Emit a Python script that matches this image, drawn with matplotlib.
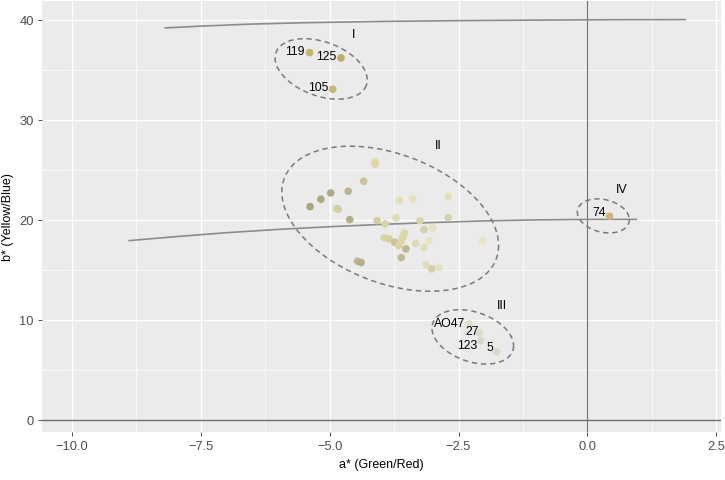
import numpy as np
import matplotlib
matplotlib.use("Agg")
import matplotlib.pyplot as plt
from matplotlib.ticker import MultipleLocator

plt.rcParams['font.family'] = ['Liberation Sans', 'DejaVu Sans']

# ---------------- data ----------------
# Group I
g1_a = [-5.39, -4.78, -4.94]
g1_b = [36.73, 36.20, 33.07]
g1_labels = ["119", "125", "105"]
g1_colors = ["#C4B46C", "#BEAD66", "#C8B870"]

# Group II
g2_a = [-5.38, -5.17, -4.98, -4.64, -4.34, -4.12, -4.12, -4.83, -4.86, -4.61,
        -4.08, -3.92, -3.71, -3.65, -3.39, -2.70, -2.70, -3.25, -3.17, -3.00,
        -2.04, -3.55, -3.58, -3.94, -3.85, -3.74, -3.66, -3.61, -3.52, -3.33,
        -3.17, -3.07, -3.61, -4.46, -4.39, -3.13, -3.02, -2.88]
g2_b = [21.33, 22.07, 22.70, 22.87, 23.87, 25.83, 25.60, 21.07, 21.13, 20.03,
        19.93, 19.60, 20.20, 21.97, 22.10, 22.33, 20.23, 19.93, 19.03, 19.20,
        17.93, 18.70, 18.27, 18.23, 18.10, 17.77, 17.43, 17.90, 17.10, 17.63,
        17.27, 17.93, 16.23, 15.87, 15.73, 15.50, 15.10, 15.23]
g2_colors = ["#A8A57F", "#ACA882", "#AEA984", "#BAB58F", "#CCC498", "#E5DFA6",
             "#DDD6A0", "#D8D2A8", "#D4CEA4", "#B2AE86", "#D2CCA0", "#D7D2A9",
             "#E0DBB5", "#E4DEB5", "#E6E1BA", "#E4DEB4", "#D8D2A8", "#DAD5B0",
             "#D6D1A9", "#E6E2C1", "#EAE4C2", "#E0D9A5", "#DDD6A4", "#D8D2A4",
             "#D5CFA1", "#C8C39A", "#D9D3A6", "#DBD5A8", "#BDB893", "#DFDAB3",
             "#E3DEBB", "#E8E3C2", "#BFBA95", "#BDB690", "#B5AF89", "#E2DDB8",
             "#D4CFA8", "#E4E0C4"]

# Group III
g3_a = [-2.30, -2.09, -2.07, -1.76]
g3_b = [9.60, 8.70, 7.93, 6.80]
g3_labels = ["AO47", "27", "123", "5"]
g3_colors = ["#E2E0CC", "#DCDAC8", "#D9D8C6", "#DAD8C8"]

# Group IV
g4_a = [0.43]
g4_b = [20.37]
g4_labels = ["74"]
g4_colors = ["#D2B082"]

# reference curves
curve_hi_a = [-8.19, -7.5, -6.54, -5.5, -4.0, -2.5, -1.0, 0.5, 1.9]
curve_hi_b = [39.20, 39.38, 39.58, 39.72, 39.85, 39.93, 39.98, 40.02, 40.03]
curve_lo_a = [-8.89, -8.0, -7.0, -6.0, -5.0, -4.0, -3.0, -2.0, -1.0, 0.0, 0.95]
curve_lo_b = [17.93, 18.32, 18.72, 19.05, 19.32, 19.55, 19.74, 19.90, 20.00, 20.05, 20.05]

# group ellipses: centre and two half-axis vectors (a*, b*)
ell_names = ["I", "II", "III", "IV"]
ell_center = [(-5.165, 35.10), (-3.825, 20.12), (-2.223, 8.30), (0.31, 20.40)]
ell_u = [(0.876, -1.64), (2.103, -2.68), (0.792, -0.88), (0.505, -0.38)]
ell_v = [(-0.179, -2.54), (0.0, -6.74), (0.0, -2.57), (0.0, -1.66)]
ell_label_pos = [(-4.54, 38.6), (-2.89, 27.5), (-1.66, 11.5), (0.67, 23.1)]

x_ticks = [-10.0, -7.5, -5.0, -2.5, 0.0, 2.5]
y_ticks = [0, 10, 20, 30, 40]

# ---------------- figure ----------------
fig = plt.figure(figsize=(7.25, 4.81), dpi=100)
ax = fig.add_axes([0.058, 0.10, 0.937, 0.896])
ax.set_facecolor("#EBEBEB")
for s in ax.spines.values():
    s.set_visible(False)

ax.set_xlim(-10.58, 2.6)
ax.set_ylim(-1.2, 41.9)
ax.set_xticks(x_ticks)
ax.set_xticklabels([f"{t:.1f}".replace("-", "\u2212") for t in x_ticks])
ax.set_yticks(y_ticks)
ax.xaxis.set_minor_locator(MultipleLocator(1.25))
ax.yaxis.set_minor_locator(MultipleLocator(5))
ax.grid(which="major", color="white", linewidth=1.0)
ax.grid(which="minor", color="white", linewidth=0.5)
ax.set_axisbelow(True)
ax.tick_params(which="major", length=3, width=0.6, color="#333333",
               labelcolor="#4D4D4D", labelsize=9.3, pad=3)
ax.tick_params(which="minor", length=0)

ax.set_xlabel("a* (Green/Red)", fontsize=9, color="black", labelpad=4)
ax.set_ylabel("b* (Yellow/Blue)", fontsize=9, color="black", labelpad=4)

# axes lines
ax.axhline(0, color="#6E6E6E", linewidth=1.0, zorder=1)
ax.axvline(0, color="#6E6E6E", linewidth=0.8, zorder=1)

# curves
ax.plot(curve_hi_a, curve_hi_b, color="#8C8C8C", linewidth=1.2, zorder=2)
ax.plot(curve_lo_a, curve_lo_b, color="#8C8C8C", linewidth=1.2, zorder=2)

# ellipses
t = np.linspace(0, 2 * np.pi, 300)
for c, u, v, name, lp in zip(ell_center, ell_u, ell_v, ell_names, ell_label_pos):
    ex = c[0] + u[0] * np.cos(t) + v[0] * np.sin(t)
    ey = c[1] + u[1] * np.cos(t) + v[1] * np.sin(t)
    ax.plot(ex, ey, color="#7A7A7A", linewidth=1.1, linestyle=(0, (3.5, 2.5)), zorder=3)
    ax.text(lp[0], lp[1], name, fontsize=9, ha="center", va="center", color="black")

# points
ms = 30
ax.scatter(g2_a, g2_b, s=ms, c=g2_colors, edgecolors="none", zorder=4)
ax.scatter(g1_a, g1_b, s=ms, c=g1_colors, edgecolors="none", zorder=4)
ax.scatter(g3_a, g3_b, s=ms, c=g3_colors, edgecolors="none", zorder=4)
ax.scatter(g4_a, g4_b, s=ms, c=g4_colors, edgecolors="none", zorder=4)

# point labels (offsets in pixels)
lab_off = {"119": (-5, 2), "125": (-4.5, 2.3), "105": (-4.5, 2),
           "AO47": (-4, 1), "27": (-1, 2.3), "123": (-3, -4.3), "5": (-3, 4.7),
           "74": (-4, 4.6)}
for xs, ys, labs in [(g1_a, g1_b, g1_labels), (g3_a, g3_b, g3_labels), (g4_a, g4_b, g4_labels)]:
    for x, y, l in zip(xs, ys, labs):
        ax.annotate(l, (x, y), xytext=lab_off[l], textcoords="offset pixels",
                    ha="right", va="center", fontsize=8.8, color="black", zorder=5)

fig.savefig("out.png", dpi=100)
